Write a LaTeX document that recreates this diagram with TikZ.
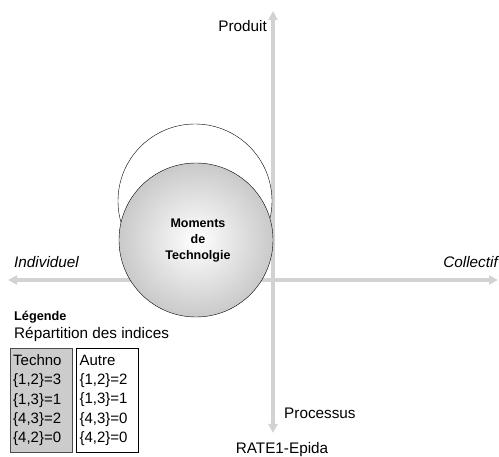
\documentclass[tikz,border=0pt]{standalone}
\usepackage{fontspec}
\setmainfont{Liberation Sans}
\usetikzlibrary{arrows.meta, positioning}

\definecolor{axisgray}{RGB}{210,210,210}
\definecolor{boxgray}{RGB}{204,204,204}

\tikzstyle{axis}      = [line width=3.5pt, draw=axisgray,
                         {Triangle[length=9pt,width=9pt]}-{Triangle[length=9pt,width=9pt]}]
\tikzstyle{axislabel} = [inner sep=0pt, font=\fontsize{15.3}{18}\selectfont]
\tikzstyle{bubble}    = [circle, minimum size=154pt, draw=black, thin]
\tikzstyle{legendbox} = [rectangle, draw=black, minimum width=62pt,
                         minimum height=104pt, anchor=north west,
                         inner sep=3pt, align=left, text width=56pt,
                         font=\fontsize{15}{19.2}\selectfont]

\begin{document}
\begin{tikzpicture}[x=1pt, y=-1pt]
  \useasboundingbox (0,0) rectangle (499,457);

  % Axes
  \coordinate (top)    at (273,11);
  \coordinate (bottom) at (273,433);
  \coordinate (left)   at (8,280);
  \coordinate (right)  at (498,280);
  \draw[axis] (bottom) -- (top);
  \draw[axis] (left) -- (right);

  % Axis labels
  \node[axislabel, anchor=east] (produit) at (267,26) {Produit};
  \node[axislabel, anchor=west] (processus) at (284,413) {Processus};
  \node[axislabel, anchor=west, font=\fontsize{15.3}{18}\selectfont\itshape]
        (individuel) at (14,262) {Individuel};
  \node[axislabel, anchor=east, font=\fontsize{15.3}{18}\selectfont\itshape]
        (collectif) at (498,262) {Collectif};
  \node[axislabel] (source) at (282,450) {RATE1-Epida};

  % Circles
  \node[bubble, fill=white] (ring) at (195,201) {};
  \node[bubble, inner color=white, outer color=gray!42] (moments) at (196,240) {};
  \node[align=center, inner sep=0pt,
        font=\fontsize{12.5}{16}\selectfont\bfseries] (momtext) at (198,241)
        {Moments\\de\\Technolgie};

  % Legend
  \node[anchor=west, inner sep=0pt, font=\fontsize{12.7}{15}\selectfont\bfseries]
        (legende) at (14,317) {Légende};
  \node[axislabel, anchor=west] (repart) at (14,334) {Répartition des indices};

  \node[legendbox, fill=boxgray, draw=black!70] (techno) at (10,348)
        {Techno\\\{1,2\}=3\\\{1,3\}=1\\\{4,3\}=2\\\{4,2\}=0};
  \node[legendbox, fill=white, right=4pt of techno.north east, anchor=north west]
        (autre) {Autre\\\{1,2\}=2\\\{1,3\}=1\\\{4,3\}=0\\\{4,2\}=0};

\end{tikzpicture}
\end{document}
